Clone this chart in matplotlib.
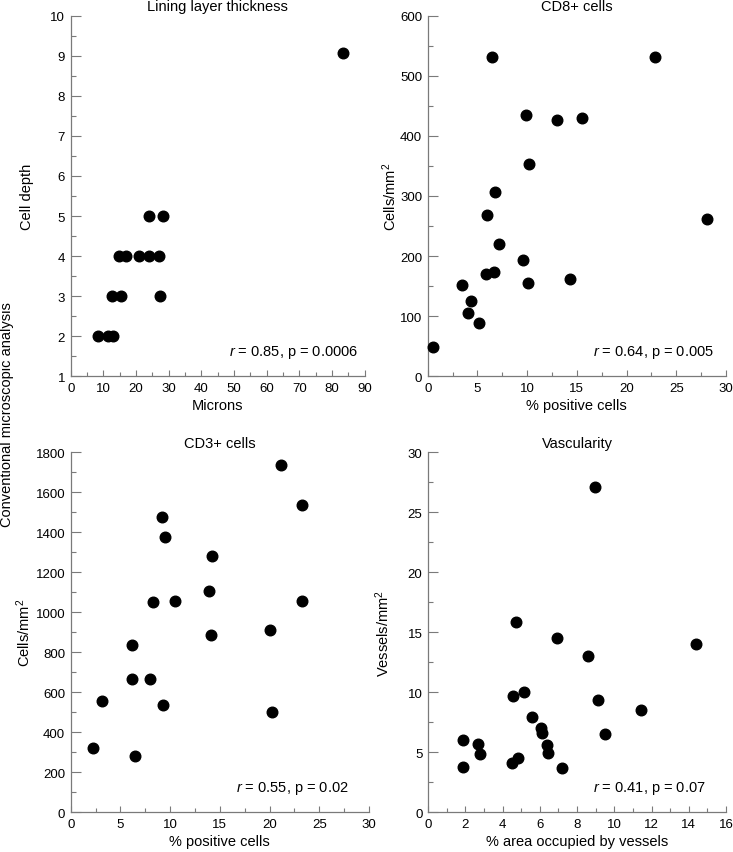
import matplotlib
matplotlib.use('Agg')
import matplotlib.pyplot as plt
from matplotlib.ticker import MultipleLocator

plt.rcParams['font.family'] = ['Liberation Sans', 'DejaVu Sans']
plt.rcParams['mathtext.fontset'] = 'custom'
plt.rcParams['mathtext.rm'] = 'Liberation Sans'
plt.rcParams['mathtext.it'] = 'Liberation Sans:italic'

# ===数据
lining_x = [83.3, 24.0, 28.4, 14.8, 16.9, 21.0, 24.0, 26.9, 12.6, 15.3, 27.3, 8.5, 11.3, 12.8]
lining_y = [9.08, 5, 5, 4, 4, 4, 4, 4, 3, 3, 3, 2, 2, 2]

cd8_x = [6.5, 22.9, 9.9, 13.0, 15.5, 10.2, 6.8, 6.0, 28.1, 7.2, 9.6, 5.9, 6.7, 10.1, 14.3, 3.4, 4.4, 4.1, 5.2, 0.5]
cd8_y = [531, 532, 435, 426, 429, 354, 306, 268, 262, 220, 194, 171, 174, 155, 162, 152, 125, 106, 89, 48]

cd3_x = [21.1, 23.3, 9.2, 9.5, 14.2, 13.9, 8.3, 10.5, 23.3, 14.1, 20.0, 6.2, 6.2, 8.0, 3.1, 9.3, 20.2, 2.2, 6.5]
cd3_y = [1738, 1538, 1478, 1377, 1280, 1105, 1053, 1057, 1058, 888, 913, 837, 668, 665, 557, 535, 500, 323, 280]

vasc_x = [8.98, 4.72, 6.91, 8.57, 14.4, 4.56, 5.15, 9.15, 11.44, 5.57, 6.07, 6.14, 9.49, 1.90, 6.39, 6.44,
          2.68, 2.77, 4.53, 4.83, 1.90, 7.19]
vasc_y = [27.1, 15.9, 14.5, 13.0, 14.0, 9.7, 10.0, 9.36, 8.56, 7.97, 7.06, 6.58, 6.5, 6.0, 5.64, 4.92,
          5.69, 4.86, 4.14, 4.53, 3.78, 3.67]

panels = [
    # x, y, title, xlabel, ylabel, xlim, ylim, xmaj, ymaj, stat
    (lining_x, lining_y, 'Lining layer thickness', 'Microns', 'Cell depth', (0, 90), (1, 10), 10, 1,
     r'$\it{r}$ = 0.85, p = 0.0006'),
    (cd8_x, cd8_y, 'CD8+ cells', '% positive cells', 'Cells/mm$^2$', (0, 30), (0, 600), 5, 100,
     r'$\it{r}$ = 0.64, p = 0.005'),
    (cd3_x, cd3_y, 'CD3+ cells', '% positive cells', 'Cells/mm$^2$', (0, 30), (0, 1800), 5, 200,
     r'$\it{r}$ = 0.55, p = 0.02'),
    (vasc_x, vasc_y, 'Vascularity', '% area occupied by vessels', 'Vessels/mm$^2$', (0, 16), (0, 30), 2, 5,
     r'$\it{r}$ = 0.41, p = 0.07'),
]

# axes positions in figure fraction (left, bottom, width, height)
W, H = 733, 853
boxes = [
    (70.7, 16.7, 364.7, 377.3),
    (427.7, 16.7, 726.0, 377.3),
    (70.7, 453.3, 369.0, 813.3),
    (428.0, 453.3, 726.0, 813.3),
]
ylab_x = [-0.125, -0.096, -0.126, -0.121]
stat_pos = [(0.977, 0.070), (0.959, 0.070), (0.933, 0.0675), (0.933, 0.0675)]

spine_c = '#7a7a7a'
fig = plt.figure(figsize=(W / 100, H / 100), dpi=100)

for i, (x, y, title, xl, yl, xlim, ylim, xmaj, ymaj, stat) in enumerate(panels):
    l, t, r, b = boxes[i]
    ax = fig.add_axes([l / W, 1 - b / H, (r - l) / W, (b - t) / H])
    ax.scatter(x, y, s=58, color='black', zorder=3, clip_on=False)
    ax.set_xlim(xlim)
    ax.set_ylim(ylim)
    ax.xaxis.set_major_locator(MultipleLocator(xmaj))
    ax.xaxis.set_minor_locator(MultipleLocator(xmaj / 2))
    ax.yaxis.set_major_locator(MultipleLocator(ymaj))
    ax.yaxis.set_minor_locator(MultipleLocator(ymaj / 2))
    for s in ['top', 'right']:
        ax.spines[s].set_visible(False)
    for s in ['left', 'bottom']:
        ax.spines[s].set_color(spine_c)
        ax.spines[s].set_linewidth(0.9)
    ax.tick_params(axis='x', which='major', direction='in', length=4, width=0.8, color=spine_c,
                   labelsize=9.5, pad=4)
    ax.tick_params(axis='x', which='minor', direction='in', length=2.8, width=0.8, color=spine_c)
    ax.tick_params(axis='y', which='major', direction='in', length=7, width=0.8, color=spine_c,
                   labelsize=9.5, pad=4)
    ax.tick_params(axis='y', which='minor', direction='in', length=3.5, width=0.8, color=spine_c)
    ax.set_title(title, fontsize=10.5, pad=4)
    ax.set_xlabel(xl, fontsize=10.5, labelpad=3)
    ax.set_ylabel(yl, fontsize=10.5)
    ax.yaxis.set_label_coords(ylab_x[i], 0.5)
    ax.text(stat_pos[i][0], stat_pos[i][1], stat, transform=ax.transAxes, ha='right', va='center',
            fontsize=10.5)

fig.text(7 / W, 1 - 415 / H, 'Conventional microscopic analysis', rotation=90, ha='center', va='center',
         fontsize=10.5)

fig.savefig('out.png', dpi=100)
